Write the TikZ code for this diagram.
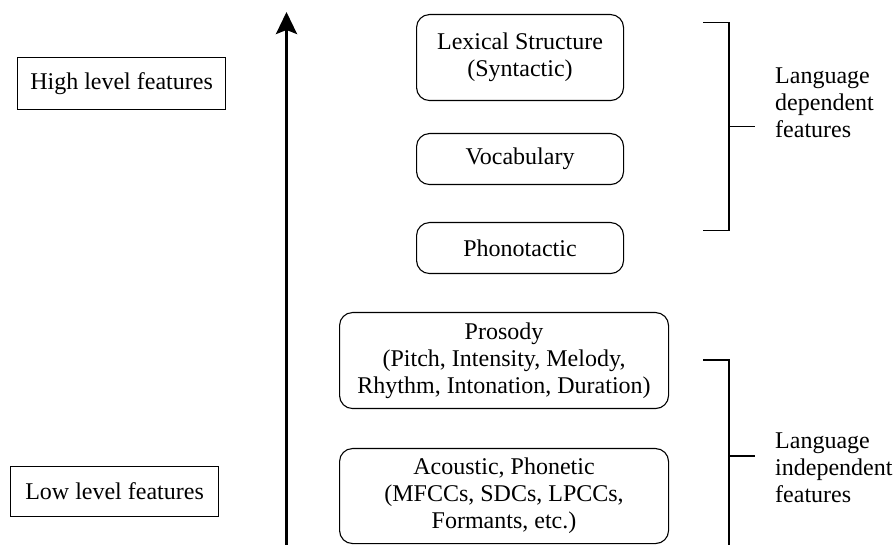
\documentclass[tikz,border=0pt]{standalone}
\usepackage{fontspec}
\setmainfont{Liberation Serif}
\usetikzlibrary{arrows.meta}
\begin{document}
\begin{tikzpicture}[x=1pt,y=-1pt,
  every node/.style={font=\fontsize{24}{27}\selectfont, inner sep=0pt, align=center},
  featbox/.style={draw, line width=1.1pt, rounded corners=13pt, anchor=north west},
  levelbox/.style={draw, line width=1.1pt, anchor=north west},
  brack/.style={line width=1.1pt},
  grouplabel/.style={anchor=north west, align=left}]
  \useasboundingbox (0,0) rectangle (895,545);

  % level labels on the left
  \node[levelbox, minimum width=208pt, minimum height=52pt] (high) at (17,57) {High level features};
  \node[levelbox, minimum width=208pt, minimum height=50pt] (low) at (10,466) {Low level features};

  % rising arrow
  \coordinate (arrbot) at (286.5,550);
  \coordinate (arrtop) at (286.5,12);
  \draw[line width=3pt, -{Stealth[length=22pt,width=21pt,inset=4pt]}] (arrbot) -- (arrtop);

  % feature boxes
  \node[featbox, minimum width=207pt, minimum height=86pt] (lex) at (416,14) {Lexical Structure\\(Syntactic)};
  \node[featbox, minimum width=207pt, minimum height=51pt] (voc) at (416,133) {Vocabulary};
  \node[featbox, minimum width=207pt, minimum height=51pt] (pho) at (416,222) {Phonotactic};
  \node[featbox, minimum width=329pt, minimum height=96pt] (pro) at (339,312) {Prosody\\(Pitch, Intensity, Melody,\\Rhythm, Intonation, Duration)};
  \node[featbox, minimum width=329pt, minimum height=95pt] (aco) at (339,448) {Acoustic, Phonetic\\(MFCCs, SDCs, LPCCs,\\Formants, etc.)};

  % bracket: language dependent
  \coordinate (d1) at (703,22.5);
  \coordinate (d2) at (729,22.5);
  \coordinate (d3) at (729,230.5);
  \coordinate (d4) at (703,230.5);
  \coordinate (dm) at (729,126.5);
  \coordinate (dt) at (755,126.5);
  \draw[brack] (d1) -- (d2) -- (d3) -- (d4);
  \draw[brack] (dm) -- (dt);
  \node[grouplabel] (dep) at (775,68) {Language\\dependent\\features};

  % bracket: language independent
  \coordinate (i1) at (703,360);
  \coordinate (i2) at (729,360);
  \coordinate (i3) at (729,560);
  \coordinate (im) at (729,456);
  \coordinate (it) at (755,456);
  \draw[brack] (i1) -- (i2) -- (i3);
  \draw[brack] (im) -- (it);
  \node[grouplabel] (indep) at (775,433) {Language\\independent\\features};
\end{tikzpicture}
\end{document}
